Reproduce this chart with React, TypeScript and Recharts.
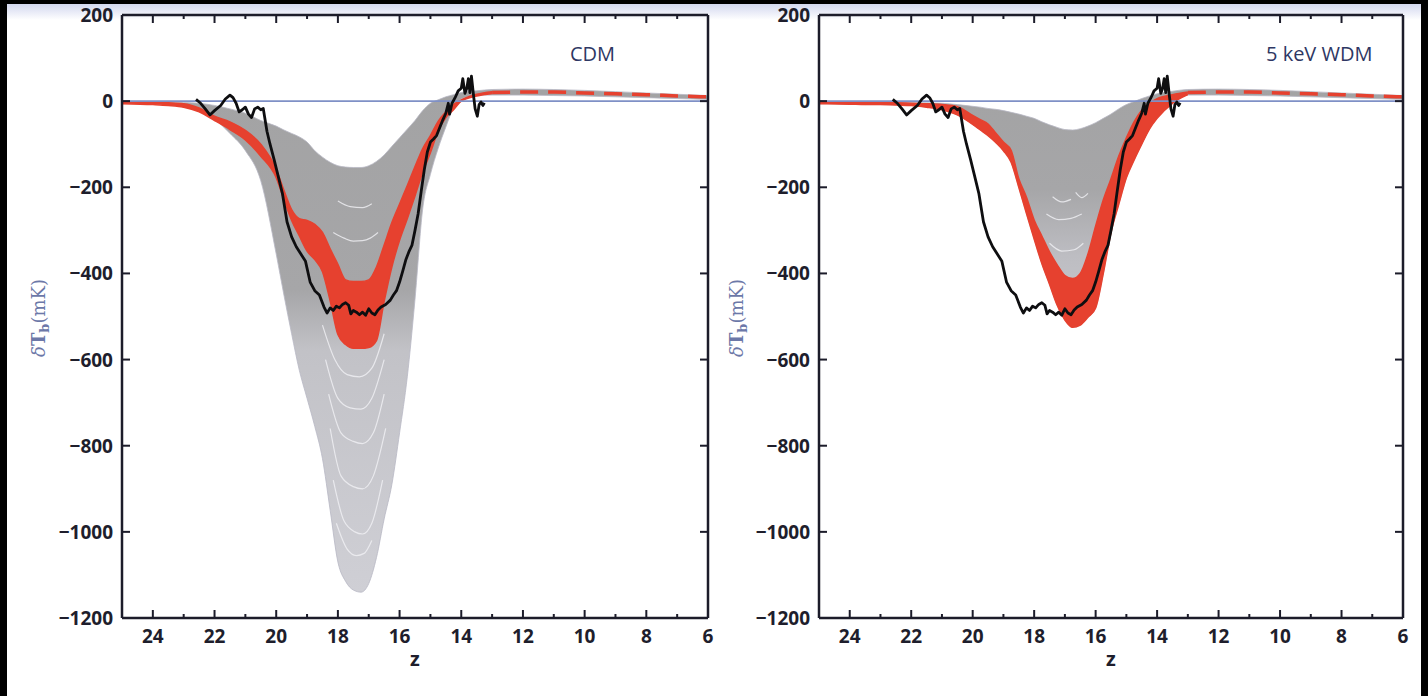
import React from "react";
import {
  Area,
  ComposedChart,
  Line,
  ReferenceLine,
  XAxis,
  YAxis,
} from "recharts";

// redshift grid shared by the envelopes
const zGrid = [
  25, 24, 23.5, 23, 22.5, 22, 21.5, 21, 20.5, 20,
  19.75, 19.5, 19.25, 19, 18.75, 18.5, 18.25, 18, 17.75, 17.5,
  17.25, 17, 16.75, 16.5, 16.25, 16, 15.75, 15.5, 15.25, 15,
  14.75, 14.5, 14.25, 14, 13.5, 13, 12, 11, 10, 9,
  8, 7, 6,
];
// the red band stops at z = 13, then continues as a dashed line
const zBand = zGrid.slice(0, 36);

// CDM panel
const cdmGrayLower = [
  -3, -6, -9, -14, -22, -42, -75, -115, -185, -355,
  -450, -540, -625, -690, -755, -830, -950, -1070, -1115, -1135,
  -1140, -1120, -1060, -970, -890, -770, -640, -460, -250, -170,
  -110, -60, -15, 5, 13, 14, 14, 13, 12, 10,
  8, 6, 4,
];
const cdmGrayUpper = [
  0, -1, -2, -3, -5, -10, -18, -28, -45, -58,
  -67, -75, -83, -95, -115, -130, -142, -150, -153, -154,
  -154, -150, -140, -125, -105, -85, -65, -45, -22, -5,
  3, 10, 15, 20, 24, 27, 28, 27, 25, 22,
  19, 16, 13,
];
const cdmRedLower = [
  -6, -8, -10, -14, -25, -45, -66, -90, -128, -178,
  -229, -277, -313, -348, -368, -396, -464, -542, -565, -574,
  -574, -572, -556, -465, -385, -323, -273, -220, -165, -120,
  -70, -38, -20, 0, 12, 18,
];
const cdmRedUpper = [
  -2, -3, -4, -6, -16, -35, -48, -68, -100, -158,
  -207, -252, -273, -277, -286, -305, -343, -379, -415, -419,
  -419, -415, -385, -334, -282, -239, -196, -152, -110, -80,
  -47, -25, -8, 3, 16, 22,
];
// light gaps between ensemble curves
const cdmStreaks = [
  { z: [18.0, 17.6, 17.2, 16.9], t: [-232, -245, -247, -238] },
  { z: [18.15, 17.8, 17.5, 17.2, 16.95, 16.7], t: [-305, -318, -325, -324, -318, -305] },
  { z: [18.5, 18.1, 17.7, 17.3, 16.9, 16.5], t: [-520, -600, -635, -640, -620, -540] },
  { z: [18.4, 18.0, 17.6, 17.25, 16.9, 16.5], t: [-600, -690, -712, -715, -690, -600] },
  { z: [18.3, 17.9, 17.5, 17.2, 16.85, 16.5], t: [-680, -770, -790, -795, -770, -680] },
  { z: [18.25, 17.9, 17.5, 17.2, 16.85, 16.45], t: [-760, -870, -895, -900, -870, -760] },
  { z: [18.15, 17.8, 17.45, 17.2, 16.9, 16.55], t: [-880, -975, -1000, -1005, -980, -880] },
  { z: [18.05, 17.7, 17.4, 17.15, 16.9], t: [-980, -1040, -1055, -1050, -1020] },
];

// 5 keV WDM panel
const wdmGrayLower = [
  -6, -7, -8, -8, -9, -10, -14, -20, -32, -54,
  -67, -80, -96, -115, -142, -200, -261, -320, -377, -425,
  -474, -508, -525, -520, -502, -480, -400, -305, -240, -178,
  -137, -100, -65, -40, -5, 14, 14, 13, 12, 10,
  8, 6, 4,
];
const wdmGrayUpper = [
  -1, -1, -2, -2, -3, -3, -4, -5, -8, -12,
  -14, -17, -19, -22, -26, -30, -35, -40, -48, -55,
  -61, -66, -67, -64, -58, -50, -40, -30, -18, -8,
  -1, 6, 12, 17, 23, 27, 28, 27, 25, 22,
  19, 16, 13,
];
const wdmRedLower = [
  -6, -7, -8, -8, -9, -10, -14, -20, -32, -54,
  -67, -80, -96, -115, -142, -200, -261, -320, -377, -425,
  -474, -508, -525, -520, -502, -480, -400, -305, -240, -178,
  -137, -100, -65, -40, -5, 15,
];
const wdmRedUpper = [
  -2, -3, -3, -4, -4, -5, -6, -8, -13, -33,
  -43, -53, -74, -95, -114, -180, -223, -276, -313, -350,
  -380, -405, -412, -400, -355, -290, -229, -180, -128, -85,
  -48, -21, -5, 6, 15, 21,
];
const wdmStreaks = [
  { z: [17.4, 17.1, 16.8], t: [-222, -234, -228] },
  { z: [16.65, 16.45, 16.25], t: [-212, -224, -214] },
  { z: [17.6, 17.2, 16.8, 16.45], t: [-262, -275, -272, -262] },
  { z: [17.5, 17.1, 16.7, 16.4], t: [-330, -348, -345, -330] },
];

// low-z tail: red dashes over the grey band
const tailZ = [13, 12, 11, 10, 9, 8, 7, 6];
const tailT = [20, 21, 21, 19, 17, 15, 12, 10];

// measured brightness temperature (same in both panels)
const obsZ = [
  22.6, 22.45, 22.3, 22.15, 22.0, 21.8, 21.65, 21.5, 21.4, 21.3,
  21.2, 21.1, 21.0, 20.9, 20.8, 20.7, 20.6, 20.5, 20.42, 20.3,
  20.2, 20.07, 19.95, 19.8, 19.65, 19.5, 19.35, 19.2, 19.05, 18.9,
  18.75, 18.6, 18.45, 18.35, 18.25, 18.15, 18.05, 17.95, 17.85, 17.75,
  17.65, 17.58, 17.5, 17.4, 17.3, 17.2, 17.1, 17.0, 16.9, 16.8,
  16.7, 16.6, 16.45, 16.3, 16.2, 16.1, 16.0, 15.9, 15.8, 15.7,
  15.6, 15.5, 15.4, 15.3, 15.2, 15.1, 15.0, 14.9, 14.8, 14.7,
  14.6, 14.5, 14.42, 14.38, 14.3, 14.2, 14.1, 14.0, 13.95, 13.88,
  13.82, 13.77, 13.72, 13.67, 13.6, 13.55, 13.48, 13.42, 13.36, 13.3,
  13.25,
];
const obsT = [
  4, -5, -18, -32, -22, -10, 5, 14, 8, -5,
  -25, -20, -14, -30, -38, -18, -14, -20, -17, -70,
  -100, -135, -170, -214, -280, -315, -338, -355, -372, -420,
  -440, -450, -478, -492, -480, -486, -476, -480, -472, -468,
  -474, -494, -486, -490, -496, -490, -497, -482, -492, -496,
  -485, -478, -472, -462, -450, -440, -420, -395, -369, -350,
  -335, -300, -262, -210, -160, -118, -95, -88, -80, -62,
  -44, -28, -5, -30, -5, 8, 24, 30, 52, 18,
  30, 52, 20, 58, 12, -18, -35, -8, -2, -10,
  -4,
];

const xTicks = [24, 23, 22, 21, 20, 19, 18, 17, 16, 15, 14, 13, 12, 11, 10, 9, 8, 7, 6];
const yTicks = [200, 0, -200, -400, -600, -800, -1000, -1200];

const AXIS = "#1c1c2a";
const RED = "#e6412f";
const tickFont = {
  fontFamily: "'Open Sans', sans-serif",
  fontWeight: 700,
  fontSize: 19,
  fill: "#1e1e2c",
};

const fmt = (v: number) => String(v).replace("-", "\u2212");

const BottomTick = (props: any) => {
  const { x, y, payload } = props;
  const major = payload.value % 2 === 0;
  return (
    <g>
      <line x1={x} x2={x} y1={y} y2={y - (major ? 8 : 4)} stroke={AXIS} strokeWidth={2} />
      {major && (
        <text x={x} y={y + 25} textAnchor="middle" style={tickFont}>
          {fmt(payload.value)}
        </text>
      )}
    </g>
  );
};

const TopTick = (props: any) => {
  const { x, y, payload } = props;
  const major = payload.value % 2 === 0;
  return <line x1={x} x2={x} y1={y} y2={y + (major ? 8 : 4)} stroke={AXIS} strokeWidth={2} />;
};

const LeftTick = (props: any) => {
  const { x, y, payload } = props;
  return (
    <g>
      <line x1={x} x2={x + 8} y1={y} y2={y} stroke={AXIS} strokeWidth={2} />
      <text x={x - 9} y={y} textAnchor="end" dominantBaseline="central" style={tickFont}>
        {fmt(payload.value)}
      </text>
    </g>
  );
};

const RightTick = (props: any) => {
  const { x, y } = props;
  return <line x1={x} x2={x - 8} y1={y} y2={y} stroke={AXIS} strokeWidth={2} />;
};

interface PanelProps {
  id: string;
  grayLower: number[];
  grayUpper: number[];
  redLower: number[];
  redUpper: number[];
  streaks: { z: number[]; t: number[] }[];
  margin: { top: number; right: number; bottom: number; left: number };
  gradStops: string[][];
}

function Panel({ id, grayLower, grayUpper, redLower, redUpper, streaks, margin, gradStops }: PanelProps) {
  const grayData = zGrid.map((z, i) => ({ z, range: [grayLower[i], grayUpper[i]] }));
  const redData = zBand.map((z, i) => ({ z, range: [redLower[i], redUpper[i]] }));
  const tailData = tailZ.map((z, i) => ({ z, t: tailT[i] }));
  const obsData = obsZ.map((z, i) => ({ z, t: obsT[i] }));

  return (
    <ComposedChart width={714} height={696} margin={margin}>
      <defs>
        <linearGradient id={`grey-${id}`} x1="0" y1="0" x2="0" y2="1">
          {gradStops.map(([off, col]) => (
            <stop key={off} offset={off} stopColor={col} />
          ))}
        </linearGradient>
      </defs>
      <XAxis
        dataKey="z"
        type="number"
        domain={[6, 25]}
        allowDataOverflow
        reversed
        ticks={xTicks}
        interval={0}
        tickSize={0}
        tickMargin={0}
        tickLine={false}
        tick={BottomTick}
        height={60}
        axisLine={{ stroke: AXIS, strokeWidth: 2.5 }}
        label={{
          value: "z",
          position: "insideBottom",
          offset: 12,
          style: { ...tickFont, fontSize: 20 },
        }}
      />
      <XAxis
        xAxisId="t"
        orientation="top"
        dataKey="z"
        type="number"
        domain={[6, 25]}
        allowDataOverflow
        reversed
        ticks={xTicks}
        interval={0}
        tickSize={0}
        tickMargin={0}
        tickLine={false}
        tick={TopTick}
        height={1}
        axisLine={{ stroke: AXIS, strokeWidth: 2.5 }}
      />
      <YAxis
        type="number"
        domain={[-1200, 200]}
        allowDataOverflow
        ticks={yTicks}
        interval={0}
        tickSize={0}
        tickMargin={0}
        tickLine={false}
        tick={LeftTick}
        width={60}
        axisLine={{ stroke: AXIS, strokeWidth: 2.5 }}
      />
      <YAxis
        yAxisId="r"
        orientation="right"
        type="number"
        domain={[-1200, 200]}
        allowDataOverflow
        ticks={yTicks}
        interval={0}
        tickSize={0}
        tickMargin={0}
        tickLine={false}
        tick={RightTick}
        width={1}
        axisLine={{ stroke: AXIS, strokeWidth: 2.5 }}
      />
      <Area
        data={grayData}
        dataKey="range"
        type="monotone"
        stroke="#b8b8c4"
        strokeWidth={0.8}
        fill={`url(#grey-${id})`}
        fillOpacity={1}
        isAnimationActive={false}
      />
      {streaks.map((s, k) => (
        <Line
          key={`streak-${k}`}
          data={s.z.map((z, i) => ({ z, t: s.t[i] }))}
          dataKey="t"
          type="monotone"
          stroke="#f1f1f5"
          strokeWidth={1.2}
          strokeOpacity={0.8}
          dot={false}
          isAnimationActive={false}
        />
      ))}
      <Area
        data={redData}
        dataKey="range"
        type="monotone"
        stroke={RED}
        strokeWidth={1.5}
        fill={RED}
        fillOpacity={1}
        isAnimationActive={false}
      />
      <Line
        data={tailData}
        dataKey="t"
        type="monotone"
        stroke={RED}
        strokeWidth={3.5}
        strokeDasharray="18 10"
        dot={false}
        isAnimationActive={false}
      />
      <ReferenceLine y={0} stroke="#7f90c6" strokeWidth={1.6} />
      <Line
        data={obsData}
        dataKey="t"
        type="linear"
        stroke="#0e0e10"
        strokeWidth={2.8}
        strokeLinejoin="round"
        dot={false}
        isAnimationActive={false}
      />
    </ComposedChart>
  );
}

const yLabelStyle: React.CSSProperties = {
  position: "absolute",
  top: 318,
  transform: "translate(-50%, -50%) rotate(-90deg)",
  whiteSpace: "nowrap",
  fontFamily: "'DejaVu Serif', serif",
  fontSize: 18,
  color: "#6c78a8",
};

const tagStyle: React.CSSProperties = {
  position: "absolute",
  top: 40,
  fontFamily: "'Open Sans', sans-serif",
  fontSize: 20,
  color: "#2e3763",
  whiteSpace: "nowrap",
};

function YLabel({ left }: { left: number }) {
  return (
    <div style={{ ...yLabelStyle, left }}>
      <i>δ</i>
      <b>T</b>
      <sub style={{ fontWeight: 700, fontSize: 13 }}>b</sub>
      (mK)
    </div>
  );
}

export default function App() {
  return (
    <div
      style={{
        position: "fixed",
        top: 0,
        left: 0,
        width: 1428,
        height: 696,
        background: "#000",
        overflow: "hidden",
      }}
    >
      <div
        style={{
          position: "absolute",
          left: 7,
          top: 4,
          width: 1414,
          height: 692,
          background: "linear-gradient(to bottom, #d3d8ef 0px, #ffffff 16px)",
        }}
      />
      <div style={{ position: "absolute", left: 0, top: 0 }}>
        <Panel
          id="cdm"
          grayLower={cdmGrayLower}
          grayUpper={cdmGrayUpper}
          redLower={cdmRedLower}
          redUpper={cdmRedUpper}
          streaks={cdmStreaks}
          margin={{ top: 14, right: 5, bottom: 18, left: 62 }}
          gradStops={[
            ["0%", "#a3a3a4"],
            ["40%", "#a6a6a8"],
            ["52%", "#c2c2c7"],
            ["100%", "#cfcfd5"],
          ]}
        />
      </div>
      <div style={{ position: "absolute", left: 714, top: 0 }}>
        <Panel
          id="wdm"
          grayLower={wdmGrayLower}
          grayUpper={wdmGrayUpper}
          redLower={wdmRedLower}
          redUpper={wdmRedUpper}
          streaks={wdmStreaks}
          margin={{ top: 14, right: 24, bottom: 18, left: 45 }}
          gradStops={[
            ["0%", "#a3a3a4"],
            ["42%", "#a6a6a8"],
            ["70%", "#bdbdc2"],
            ["100%", "#c8c8cd"],
          ]}
        />
      </div>
      <YLabel left={40} />
      <YLabel left={738} />
      <div style={{ ...tagStyle, left: 570 }}>CDM</div>
      <div style={{ ...tagStyle, left: 1266 }}>5 keV WDM</div>
    </div>
  );
}
